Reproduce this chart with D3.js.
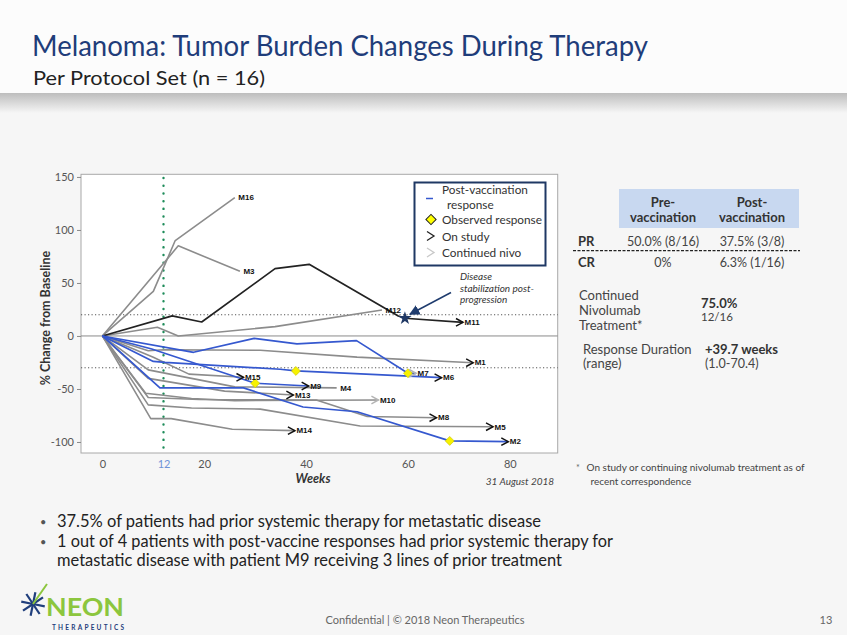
<!DOCTYPE html>
<html><head><meta charset="utf-8">
<script src="https://cdn.jsdelivr.net/npm/d3@7/dist/d3.min.js"></script>
<style>
body{margin:0;background:#f6f6f6;}
svg{display:block;}
text{font-family:Lato,'Open Sans',sans-serif;}
</style>
</head><body>
<svg id="c" width="847" height="635"></svg>
<script>
// ---------- DATA (weeks, % change from baseline) ----------
const M1  = [[0,0],[9,-14],[12,-13],[31,-13.5],[50,-20],[72.8,-25.2]];
const M2  = [[0,0],[11.3,-49],[27.7,-49],[39.4,-67],[50,-71.5],[68.2,-99],[79.7,-99.7]];
const M3  = [[0,0],[14.9,85],[27,61]];
const M4  = [[0,0],[9,-32],[17.5,-40],[26,-48],[46,-49]];
const M5  = [[0,0],[9,-65],[17.5,-68],[31,-69],[50.6,-85],[76.7,-85.6]];
const M6  = [[0,0],[10,-24],[12.3,-25],[34.9,-31.4],[38,-33],[66.6,-39.3]];
const M7  = [[0,0],[17.9,-15.4],[29.8,-2.2],[38.2,-7.5],[49.9,-4.4],[60,-35.2],[61.6,-35.2]];
const M8  = [[0,0],[9,-58],[19,-60],[42,-60.5],[52,-76],[65.6,-77.1]];
const M9  = [[0,0],[9.7,-12.3],[30,-44.6],[40.5,-47.2]];
const M10 = [[0,0],[8.5,-54],[17.5,-59],[26,-61],[54.2,-60.4]];
const M11 = [[0,0],[13.7,18.9],[19.5,13.2],[33.9,63.5],[40.6,67.6],[58.1,18.9],[59.4,16.7],[70.8,12.9]];
const M12 = [[0,0],[10.8,8.2],[14.9,0],[33.9,8.8],[54.9,24.5]];
const M13 = [[0,0],[9,-40],[24,-52],[37.5,-55.7]];
const M14 = [[0,0],[9.5,-78],[13.5,-78],[25.5,-88],[37.8,-89.3]];
const M15 = [[0,0],[10,-20],[17,-36],[27.7,-39]];
const M16 = [[0,0],[10,42],[14.3,90],[26,130.5]];

const patientIds   = ["M1","M2","M3","M4","M5","M6","M7","M8","M9","M10","M11","M12","M13","M14","M15","M16"];
const patientData  = [M1,M2,M3,M4,M5,M6,M7,M8,M9,M10,M11,M12,M13,M14,M15,M16];
const postVaccResponders = ["M2","M6","M7","M9"];
const progressionThenStable = ["M11"];
const onStudy       = ["M1","M2","M5","M6","M8","M9","M11","M13","M14","M15"];
const continuedNivo = ["M7","M10"];
const observedResponses = [[30,-44.6],[38,-33],[60,-35.2],[68.2,-99]];
const stabilizationPoint = [59.4,16.7];
const refLines = [20,-30];
const vaccinationWeek = 12;
const yTicks = [-100,-50,0,50,100,150];
const xTicks = [0,12,20,40,60,80];

const tableCols = ["Pre-\nvaccination","Post-\nvaccination"];
const tableRows = [["PR","50.0% (8/16)","37.5% (3/8)"],["CR","0%","6.3% (1/16)"]];

// ---------- SVG ----------
const svg = d3.select("#c");
const defs = svg.append("defs");
const g1 = defs.append("linearGradient").attr("id","shadow").attr("x1",0).attr("y1",0).attr("x2",0).attr("y2",1);
g1.append("stop").attr("offset","0%").attr("stop-color","#bdbdbd");
g1.append("stop").attr("offset","100%").attr("stop-color","#f6f6f6");
defs.append("marker").attr("id","ah").attr("viewBox","0 0 10 10").attr("refX",9).attr("refY",5)
  .attr("markerWidth",7).attr("markerHeight",7).attr("orient","auto")
  .append("path").attr("d","M0,0 L10,5 L0,10 z").attr("fill","#1f3c6e");

svg.append("rect").attr("width",847).attr("height",635).attr("fill","#f6f6f6");
svg.append("rect").attr("width",847).attr("height",93).attr("fill","#fcfcfc");
svg.append("rect").attr("y",93).attr("width",847).attr("height",20).attr("fill","url(#shadow)");

svg.append("text").attr("x",32).attr("y",56).attr("font-size",28).attr("fill","#1f3d7a")
  .attr("textLength",616).attr("lengthAdjust","spacingAndGlyphs")
  .text("Melanoma: Tumor Burden Changes During Therapy");
svg.append("text").attr("x",33).attr("y",85).attr("font-size",20).attr("fill","#222")
  .attr("textLength",232).attr("lengthAdjust","spacingAndGlyphs")
  .text("Per Protocol Set (n = 16)");

// ---------- chart ----------
const x = d3.scaleLinear().domain([-4.2,89.4]).range([81,557.7]);
const y = d3.scaleLinear().domain([-110.4,152.5]).range([453,174.3]);

svg.append("rect").attr("x",81).attr("y",174.3).attr("width",476.7).attr("height",278.7)
  .attr("fill","#fff").attr("stroke","#a8a8a8").attr("stroke-width",1);

// axes
const ya = svg.append("g").attr("transform","translate(81,0)")
  .call(d3.axisLeft(y).tickValues(yTicks).tickFormat(d=>String(d)).tickSize(4).tickPadding(3));
ya.select(".domain").remove();
ya.selectAll("line").attr("stroke","#888");
ya.selectAll("text").attr("font-size",11).attr("fill","#555").style("font-family","Lato,'Open Sans',sans-serif");

const xa = svg.append("g").attr("transform","translate(0,453)")
  .call(d3.axisBottom(x).tickValues(xTicks).tickFormat(d=>String(d)).tickSize(0).tickPadding(7));
xa.select(".domain").remove();
xa.selectAll("text").attr("font-size",11).style("font-family","Lato,'Open Sans',sans-serif")
  .attr("fill",d=>d===vaccinationWeek?"#6f93d6":"#555");

svg.append("text").attr("transform","translate(50,318) rotate(-90)").attr("text-anchor","middle")
  .attr("font-size",12.5).attr("font-weight","bold").attr("fill","#333").text("% Change from Baseline");
svg.append("text").attr("x",313).attr("y",483).attr("text-anchor","middle").attr("font-size",12.5)
  .attr("font-weight","bold").attr("font-style","italic").attr("fill","#333").text("Weeks");
svg.append("text").attr("x",520).attr("y",485).attr("text-anchor","middle").attr("font-size",10)
  .attr("font-style","italic").attr("fill","#444").text("31 August 2018");

// reference lines
svg.append("line").attr("x1",81).attr("x2",557.7).attr("y1",y(0)).attr("y2",y(0))
  .attr("stroke","#8a8a8a").attr("stroke-width",1);
svg.selectAll(".ref").data(refLines).enter().append("line")
  .attr("x1",81).attr("x2",557.7).attr("y1",d=>y(d)).attr("y2",d=>y(d))
  .attr("stroke","#555").attr("stroke-width",1).attr("stroke-dasharray","1.2,2.3");
svg.append("line").attr("x1",x(vaccinationWeek)).attr("x2",x(vaccinationWeek)).attr("y1",178).attr("y2",453)
  .attr("stroke","#1e8c5a").attr("stroke-width",2.4).attr("stroke-linecap","round").attr("stroke-dasharray","0.1,7.6");

// lines
const lineGen = d3.line().x(d=>x(d[0])).y(d=>y(d[1]));
const series = patientIds.map((id,i)=>({id,pts:patientData[i],
  kind: postVaccResponders.includes(id)?"blue":(progressionThenStable.includes(id)?"black":"grey")}));
const order = {grey:0,black:1,blue:2};
const colors = {grey:"#8c8c8c",black:"#222",blue:"#3558cf"};
series.slice().sort((a,b)=>order[a.kind]-order[b.kind]).forEach(s=>{
  svg.append("path").attr("d",lineGen(s.pts)).attr("fill","none")
    .attr("stroke",colors[s.kind]).attr("stroke-width",s.kind==="grey"?1.6:1.7).attr("stroke-linejoin","round");
});

// diamonds (squares rotated 45°)
svg.selectAll(".dia").data(observedResponses).enter().append("path")
  .attr("d",d3.symbol().type(d3.symbolSquare).size(40))
  .attr("transform",d=>`translate(${x(d[0])},${y(d[1])}) rotate(45)`)
  .attr("fill","#f7f200").attr("stroke","#c9c400").attr("stroke-width",0.6);

// star
svg.append("path").attr("d",d3.symbol().type(d3.symbolStar).size(55))
  .attr("transform",`translate(${x(stabilizationPoint[0])},${y(stabilizationPoint[1])})`)
  .attr("fill","#1f3864");

// end arrows + labels
series.forEach(s=>{
  const e = s.pts[s.pts.length-1];
  const ex = x(e[0]), ey = y(e[1]);
  let arrow = null;
  if(onStudy.includes(s.id)) arrow = "#111";
  if(continuedNivo.includes(s.id)) arrow = "#b5b5b5";
  if(arrow){
    svg.append("path").attr("d",`M${ex-7},${ey-3.8} L${ex},${ey} L${ex-7},${ey+3.8}`)
      .attr("fill","none").attr("stroke",arrow).attr("stroke-width",1.5);
  }
  svg.append("text").attr("x",ex+(arrow?1.5:3.5)).attr("y",ey).attr("dy","0.35em")
    .style("font-family","'Liberation Sans',Arial,sans-serif").attr("font-size",8)
    .attr("font-weight","bold").attr("fill","#111").text(s.id);
});

// annotation
const ann = svg.append("text").attr("font-size",10).attr("font-style","italic").attr("fill","#333");
["Disease","stabilization post-","progression"].forEach((t,i)=>
  ann.append("tspan").attr("x",460).attr("y",280+i*11.5).text(t));
svg.append("line").attr("x1",451).attr("y1",292.5).attr("x2",x(stabilizationPoint[0])+5).attr("y2",y(stabilizationPoint[1])-4)
  .attr("stroke","#1f3c6e").attr("stroke-width",1.5).attr("marker-end","url(#ah)");

// legend
svg.append("rect").attr("x",414.5).attr("y",182.5).attr("width",131).attr("height",83)
  .attr("fill","#fff").attr("stroke","#1f3864").attr("stroke-width",2);
svg.append("line").attr("x1",426).attr("x2",433).attr("y1",198.5).attr("y2",198.5).attr("stroke","#3558cf").attr("stroke-width",1.5);
const lg = svg.append("g").attr("font-size",11.8).attr("fill","#333");
lg.append("text").attr("x",442).attr("y",193.5).text("Post-vaccination");
lg.append("text").attr("x",447).attr("y",208.5).text("response");
lg.append("text").attr("x",442).attr("y",224).text("Observed response");
lg.append("text").attr("x",442).attr("y",240.5).text("On study");
lg.append("text").attr("x",442).attr("y",257).text("Continued nivo");
svg.append("path").attr("d",d3.symbol().type(d3.symbolSquare).size(52)).attr("transform","translate(431,219.5) rotate(45)")
  .attr("fill","#ffff00").attr("stroke","#222").attr("stroke-width",1);
svg.append("path").attr("d","M427,231.5 L434,236 L427,240.5").attr("fill","none").attr("stroke","#222").attr("stroke-width",1.3);
svg.append("path").attr("d","M427,248 L434,252.5 L427,257").attr("fill","none").attr("stroke","#c8c8c8").attr("stroke-width",1.3);

// ---------- table ----------
svg.append("rect").attr("x",619).attr("y",189).attr("width",180).attr("height",39).attr("fill","#c8d8f0");
const colX = [663,752];
tableCols.forEach((c,i)=>{
  c.split("\n").forEach((t,j)=>svg.append("text").attr("x",colX[i]).attr("y",207+j*14.5)
    .attr("text-anchor","middle").attr("font-size",13).attr("font-weight","bold").attr("fill","#333").text(t));
});
tableRows.forEach((r,i)=>{
  const yy = 245.5+i*21;
  svg.append("text").attr("x",578).attr("y",yy).attr("font-size",13).attr("font-weight","bold").attr("fill","#333").text(r[0]);
  svg.append("text").attr("x",colX[0]).attr("y",yy).attr("text-anchor","middle").attr("font-size",12.5).attr("fill","#444").text(r[1]);
  svg.append("text").attr("x",colX[1]).attr("y",yy).attr("text-anchor","middle").attr("font-size",12.5).attr("fill","#444").text(r[2]);
});
svg.append("line").attr("x1",573).attr("x2",800).attr("y1",250.7).attr("y2",250.7)
  .attr("stroke","#222").attr("stroke-width",1.2).attr("stroke-dasharray","3,1.5");

["Continued","Nivolumab","Treatment*"].forEach((t,i)=>svg.append("text").attr("x",579).attr("y",299.5+i*15)
  .attr("font-size",13).attr("fill","#444").text(t));
svg.append("text").attr("x",701).attr("y",308).attr("font-size",13).attr("font-weight","bold").attr("fill","#333").text("75.0%");
svg.append("text").attr("x",701).attr("y",321).attr("font-size",11.5).attr("fill","#444").text("12/16");
svg.append("text").attr("x",583).attr("y",353.5).attr("font-size",13).attr("fill","#444").text("Response Duration");
svg.append("text").attr("x",583).attr("y",368).attr("font-size",13).attr("fill","#444").text("(range)");
svg.append("text").attr("x",705).attr("y",353.5).attr("font-size",13).attr("font-weight","bold").attr("fill","#333").text("+39.7 weeks");
svg.append("text").attr("x",705).attr("y",368).attr("font-size",12.5).attr("fill","#444").text("(1.0-70.4)");

svg.append("text").attr("x",576).attr("y",471).attr("font-size",9).attr("fill","#666").text("*");
svg.append("text").attr("x",586.5).attr("y",471).attr("font-size",10).attr("fill","#444").text("On study or continuing nivolumab treatment as of");
svg.append("text").attr("x",590.5).attr("y",485).attr("font-size",10).attr("fill","#444").text("recent correspondence");

// ---------- bullets ----------
const bullets = [
  [522,"37.5% of patients had prior systemic therapy for metastatic disease",true,484],
  [542,"1 out of 4 patients with post-vaccine responses had prior systemic therapy for",true,556],
  [561,"metastatic disease with patient M9 receiving 3 lines of prior treatment",false,505]
];
bullets.forEach(b=>{
  if(b[2]) svg.append("text").attr("x",40).attr("y",b[0]+4).attr("font-size",11).attr("fill","#555").text("•");
  svg.append("text").attr("x",57).attr("y",b[0]+5).attr("font-size",16.5).attr("fill","#222")
    .attr("textLength",b[3]).attr("lengthAdjust","spacingAndGlyphs").text(b[1]);
});

// ---------- footer ----------
svg.append("text").attr("x",425).attr("y",624).attr("text-anchor","middle").attr("font-size",11).attr("fill","#666")
  .text("Confidential | © 2018 Neon Therapeutics");
svg.append("text").attr("x",826).attr("y",624).attr("text-anchor","middle").attr("font-size",11).attr("fill","#666").text("13");

// logo
const lgX = 33, lgY = 604;
d3.range(8).forEach(i=>{
  const a = i*Math.PI/4 + 0.2;
  svg.append("line").attr("x1",lgX).attr("y1",lgY).attr("x2",lgX+Math.cos(a)*12).attr("y2",lgY+Math.sin(a)*12)
    .attr("stroke","#1f3e7c").attr("stroke-width",2.2);
});
svg.append("line").attr("x1",lgX).attr("y1",lgY).attr("x2",lgX+14).attr("y2",lgY-20).attr("stroke","#8cc63e").attr("stroke-width",2);
svg.append("text").attr("x",46).attr("y",616).attr("font-size",24).attr("font-weight","bold").attr("fill","#8cc63e")
  .attr("textLength",78).attr("lengthAdjust","spacingAndGlyphs").text("NEON");
svg.append("text").attr("x",52).attr("y",630).attr("font-size",6.5).attr("font-weight","bold").attr("fill","#1f3e7c")
  .attr("textLength",72).attr("lengthAdjust","spacing").text("THERAPEUTICS");
</script>
</body></html>
